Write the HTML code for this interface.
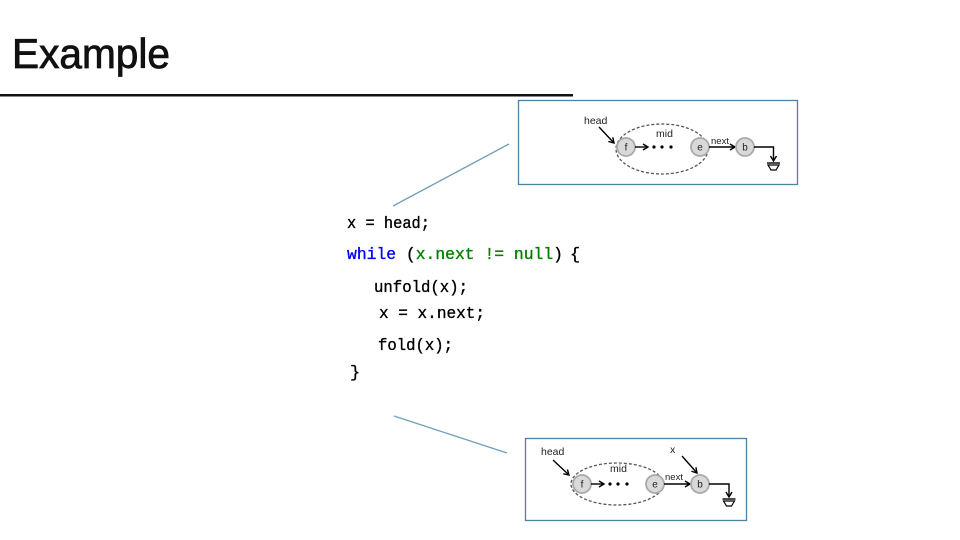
<!DOCTYPE html>
<html>
<head>
<meta charset="utf-8">
<style>
html,body{margin:0;padding:0;background:#fff;}
svg{display:block;}
</style>
</head>
<body>
<svg width="960" height="540" viewBox="0 0 960 540" xmlns="http://www.w3.org/2000/svg">
<defs>
<marker id="ah" markerWidth="8" markerHeight="8" refX="6" refY="4" orient="auto" markerUnits="userSpaceOnUse">
<path d="M1,1 L6,4 L1,7" fill="none" stroke="#000" stroke-width="1.4"/>
</marker>
</defs>
<rect width="960" height="540" fill="#fff"/>

<!-- Title -->
<text x="12" y="68" font-family="Liberation Sans, sans-serif" font-size="42" fill="#111" stroke="#111" stroke-width="0.8" textLength="158" lengthAdjust="spacingAndGlyphs">Example</text>
<rect x="0" y="94" width="573" height="2.5" fill="#111"/>

<!-- connector lines -->
<line x1="393" y1="206" x2="509" y2="144" stroke="#6fa0b8" stroke-width="1.3"/>
<line x1="394" y1="416" x2="507" y2="453" stroke="#6fa0b8" stroke-width="1.3"/>

<!-- Code -->
<g font-family="Liberation Mono, monospace" font-size="17" fill="#000" stroke-width="0.35">
<text x="347" y="228" stroke="#000" textLength="83" lengthAdjust="spacingAndGlyphs">x = head;</text>
<text x="347" y="259" stroke="#000" textLength="216" lengthAdjust="spacingAndGlyphs"><tspan fill="#0000ff" stroke="#0000ff">while</tspan> (<tspan fill="#008000" stroke="#008000">x.next != null</tspan>)</text>
<text x="570" y="259" stroke="#000">{</text>
<text x="374" y="292" stroke="#000" textLength="94" lengthAdjust="spacingAndGlyphs">unfold(x);</text>
<text x="379" y="318" stroke="#000" textLength="106" lengthAdjust="spacingAndGlyphs">x = x.next;</text>
<text x="378" y="350" stroke="#000" textLength="75" lengthAdjust="spacingAndGlyphs">fold(x);</text>
<text x="350" y="377" stroke="#000">}</text>
</g>

<!-- Top box -->
<rect x="518.5" y="100.5" width="279" height="84" fill="#fff" stroke="#4f81a0" stroke-width="1.3"/>
<g font-family="Liberation Sans, sans-serif" font-size="10.5" fill="#222">
<text x="584" y="124">head</text>
<line x1="599" y1="127" x2="614" y2="143" stroke="#000" stroke-width="1.4" marker-end="url(#ah)"/>
<ellipse cx="662" cy="149" rx="46" ry="25" fill="none" stroke="#555" stroke-width="1.3" stroke-dasharray="3,2"/>
<text x="656" y="137">mid</text>
<circle cx="626" cy="147" r="9" fill="#d9d9d9" stroke="#aaa" stroke-width="1.8"/>
<text x="626" y="150.5" text-anchor="middle" font-size="10">f</text>
<line x1="635" y1="147" x2="648" y2="147" stroke="#000" stroke-width="1.4" marker-end="url(#ah)"/>
<circle cx="654" cy="147" r="1.6" fill="#000"/>
<circle cx="662" cy="147" r="1.6" fill="#000"/>
<circle cx="671" cy="147" r="1.6" fill="#000"/>
<circle cx="700" cy="147" r="9" fill="#d9d9d9" stroke="#aaa" stroke-width="1.8"/>
<text x="700" y="150.5" text-anchor="middle" font-size="10">e</text>
<line x1="709" y1="147" x2="735" y2="147" stroke="#000" stroke-width="1.4" marker-end="url(#ah)"/>
<text x="711" y="144" font-size="9.5">next</text>
<circle cx="745" cy="147" r="9" fill="#d9d9d9" stroke="#aaa" stroke-width="1.8"/>
<text x="745" y="150.5" text-anchor="middle" font-size="10">b</text>
<polyline points="754,147 773.5,147 773.5,161" fill="none" stroke="#000" stroke-width="1.4" marker-end="url(#ah)"/>
<line x1="767" y1="163" x2="780" y2="163" stroke="#000" stroke-width="1.4"/>
<polygon points="768,165 779,165 776,170 771,170" fill="none" stroke="#000" stroke-width="1.2"/>
</g>

<!-- Bottom box -->
<rect x="525.5" y="438.5" width="221" height="82" fill="#fff" stroke="#4f81a0" stroke-width="1.3"/>
<g font-family="Liberation Sans, sans-serif" font-size="10.5" fill="#222">
<text x="541" y="455">head</text>
<line x1="553" y1="460" x2="569" y2="475" stroke="#000" stroke-width="1.4" marker-end="url(#ah)"/>
<ellipse cx="617" cy="484" rx="46" ry="21" fill="none" stroke="#555" stroke-width="1.3" stroke-dasharray="3,2"/>
<text x="610" y="472">mid</text>
<circle cx="582" cy="484" r="9" fill="#d9d9d9" stroke="#aaa" stroke-width="1.8"/>
<text x="582" y="487.5" text-anchor="middle" font-size="10">f</text>
<line x1="591" y1="484" x2="604" y2="484" stroke="#000" stroke-width="1.4" marker-end="url(#ah)"/>
<circle cx="610" cy="484" r="1.6" fill="#000"/>
<circle cx="618" cy="484" r="1.6" fill="#000"/>
<circle cx="627" cy="484" r="1.6" fill="#000"/>
<circle cx="655" cy="484" r="9" fill="#d9d9d9" stroke="#aaa" stroke-width="1.8"/>
<text x="655" y="487.5" text-anchor="middle" font-size="10">e</text>
<line x1="664" y1="484" x2="690" y2="484" stroke="#000" stroke-width="1.4" marker-end="url(#ah)"/>
<text x="665" y="480" font-size="9.5">next</text>
<text x="670" y="453">x</text>
<line x1="682" y1="456" x2="697" y2="473" stroke="#000" stroke-width="1.4" marker-end="url(#ah)"/>
<circle cx="700" cy="484" r="9" fill="#d9d9d9" stroke="#aaa" stroke-width="1.8"/>
<text x="700" y="487.5" text-anchor="middle" font-size="10">b</text>
<polyline points="709,484 729,484 729,497" fill="none" stroke="#000" stroke-width="1.4" marker-end="url(#ah)"/>
<line x1="722.5" y1="499" x2="735.5" y2="499" stroke="#000" stroke-width="1.4"/>
<polygon points="723.5,501 734.5,501 731.5,506 726.5,506" fill="none" stroke="#000" stroke-width="1.2"/>
</g>
</svg>
</body>
</html>
